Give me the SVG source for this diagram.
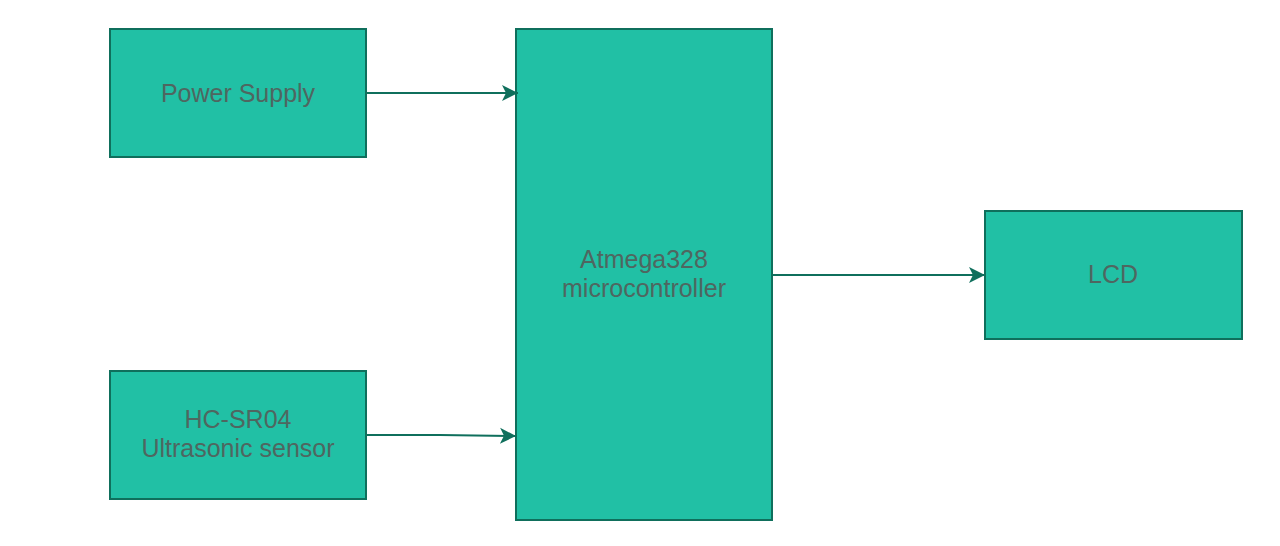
<svg xmlns="http://www.w3.org/2000/svg" width="1280" height="546" viewBox="0 0 1280 546">
<style>
.box{fill:#21c0a5;stroke:#0f6f5c;stroke-width:2}
.lbl{font-family:"Liberation Sans",Arial,sans-serif;font-size:25px;fill:#4f6660;text-anchor:middle}
.conn{fill:none;stroke:#0f6f5c;stroke-width:2}
</style>
<defs>
<marker id="arr" markerUnits="userSpaceOnUse" markerWidth="20" markerHeight="20" viewBox="0 0 20 20" refX="18" refY="10" orient="auto">
<path d="M2,2 L18,10 L2,18 L6,10 Z" fill="#0f6f5c"/>
</marker>
</defs>
<rect width="1280" height="546" fill="#ffffff"/>
<g id="power-supply">
<rect class="box" x="110" y="29" width="256" height="128"/>
<text class="lbl" x="238" y="102">Power Supply</text>
</g>
<g id="hc-sr04">
<rect class="box" x="110" y="371" width="256" height="128"/>
<text class="lbl" x="238" y="428">HC-SR04</text>
<text class="lbl" x="238" y="457">Ultrasonic sensor</text>
</g>
<g id="mcu">
<rect class="box" x="516" y="29" width="256" height="491"/>
<text class="lbl" x="644" y="268">Atmega328</text>
<text class="lbl" x="644" y="297">microcontroller</text>
</g>
<g id="lcd">
<rect class="box" x="985" y="211" width="257" height="128"/>
<text class="lbl" x="1113" y="283">LCD</text>
</g>
<g id="connectors">
<path class="conn" d="M366,93 L518,93" marker-end="url(#arr)"/>
<path class="conn" d="M366,435 L440,435 L516,436" marker-end="url(#arr)"/>
<path class="conn" d="M772,275 L985,275" marker-end="url(#arr)"/>
</g>
</svg>
